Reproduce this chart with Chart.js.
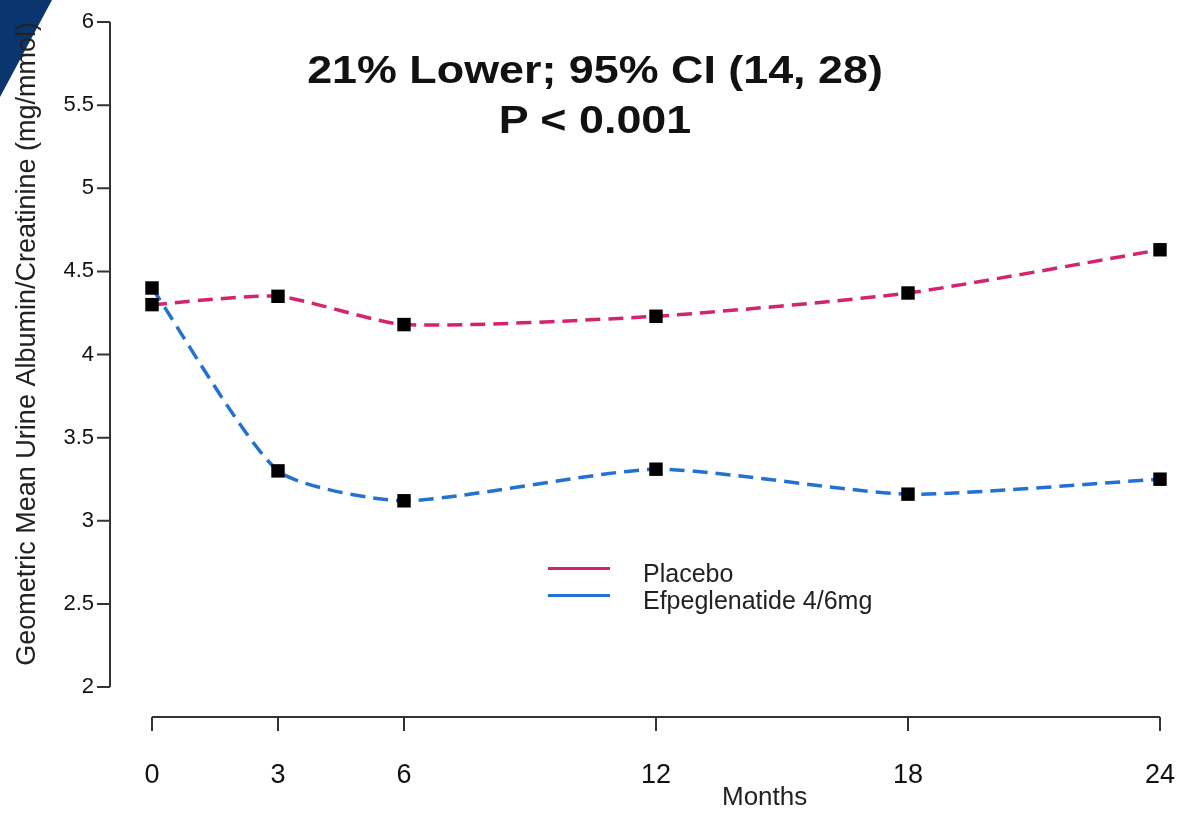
<!DOCTYPE html>
<html>
<head>
<meta charset="utf-8">
<script src="https://cdn.jsdelivr.net/npm/chart.js@4"></script>
<style>
  body { margin: 0; background: #fff; }
  #wrap { position: relative; width: 1190px; height: 822px; font-family: "Liberation Sans", Arial, sans-serif; color: #111; }
  #wrap canvas { position: absolute; left: 0; top: 0; }
  .title { position: absolute; left: 0; width: 1190px; text-align: center; font-weight: bold; font-size: 38px; transform: scaleX(1.18); transform-origin: 595px 0; }
  .legend { position: absolute; left: 548px; top: 560px; font-size: 25px; color: #222; }
  .legend div { height: 27px; line-height: 27px; position: relative; padding-left: 95px; }
  .legend span { position: absolute; left: 0; top: 7px; width: 62px; height: 3px; }
  .months { position: absolute; left: 722px; top: 781px; font-size: 26px; color: #222; }
</style>
</head>
<body>
<div id="wrap">
  <canvas id="chart" width="1190" height="822"></canvas>
  <div class="title" style="top:49px">21% Lower; 95% CI (14, 28)</div>
  <div class="title" style="top:99px">P &lt; 0.001</div>
  <div class="legend">
    <div><span style="background:#d4246f"></span>Placebo</div>
    <div><span style="background:#2371d1"></span>Efpeglenatide 4/6mg</div>
  </div>
  <div class="months">Months</div>
</div>
<script>
// data
const months = [0, 3, 6, 12, 18, 24];
const placebo = [4.30, 4.35, 4.18, 4.23, 4.37, 4.63];
const efpeglenatide = [4.40, 3.30, 3.12, 3.31, 3.16, 3.25];
const yTicks = [2, 2.5, 3, 3.5, 4, 4.5, 5, 5.5, 6];

const pink = '#d4246f';
const blue = '#2371d1';
const axisColor = '#333';

const toPoints = (vals) => vals.map((v, i) => ({ x: months[i], y: v }));

// R-style detached axes drawn from the scales
const rAxes = {
  id: 'rAxes',
  beforeDraw(chart) {
    const { ctx } = chart;
    // corner decoration
    ctx.save();
    ctx.fillStyle = '#0b356f';
    ctx.beginPath();
    ctx.moveTo(0, 0); ctx.lineTo(52, 0); ctx.lineTo(0, 97); ctx.closePath();
    ctx.fill();
    ctx.restore();
  },
  afterDraw(chart) {
    const { ctx, scales: { x, y } } = chart;
    ctx.save();
    ctx.strokeStyle = axisColor;
    ctx.lineWidth = 2;
    // y axis
    const left = chart.chartArea.left;
    ctx.beginPath();
    ctx.moveTo(left, y.getPixelForValue(yTicks[0]));
    ctx.lineTo(left, y.getPixelForValue(yTicks[yTicks.length - 1]));
    yTicks.forEach(t => {
      const py = y.getPixelForValue(t);
      ctx.moveTo(left - 13, py); ctx.lineTo(left, py);
    });
    ctx.stroke();
    // x axis, dropped below the plot
    const base = chart.chartArea.bottom + 30;
    ctx.beginPath();
    ctx.moveTo(x.getPixelForValue(months[0]), base);
    ctx.lineTo(x.getPixelForValue(months[months.length - 1]), base);
    months.forEach(m => {
      const px = x.getPixelForValue(m);
      ctx.moveTo(px, base); ctx.lineTo(px, base + 14);
    });
    ctx.stroke();
    ctx.restore();
  }
};

const seriesStyle = {
  borderWidth: 3.5,
  borderDash: [15, 8],
  tension: 0.2,
  pointStyle: 'rect',
  pointRadius: 9.5,
  pointBackgroundColor: '#000',
  pointBorderColor: '#000',
  pointBorderWidth: 0,
  clip: false
};

new Chart(document.getElementById('chart'), {
  type: 'line',
  data: {
    datasets: [
      { label: 'Placebo', data: toPoints(placebo), borderColor: pink, ...seriesStyle },
      { label: 'Efpeglenatide 4/6mg', data: toPoints(efpeglenatide), borderColor: blue, ...seriesStyle }
    ]
  },
  options: {
    responsive: false,
    animation: false,
    layout: { padding: { left: 2, top: 22, right: 30, bottom: 35 } },
    plugins: { legend: { display: false }, tooltip: { enabled: false } },
    scales: {
      x: {
        type: 'linear',
        min: -1,
        max: 24,
        afterBuildTicks: (s) => { s.ticks = months.map(v => ({ value: v })); },
        afterFit: (s) => { s.height = 100; },
        grid: { display: true, drawOnChartArea: false, drawTicks: true, tickLength: 68, color: 'rgba(0,0,0,0)' },
        border: { display: false },
        ticks: {
          padding: 4,
          color: '#111',
          font: { family: 'Liberation Sans', size: 27 },
          autoSkip: false,
          maxRotation: 0
        }
      },
      y: {
        min: 2,
        max: 6,
        afterBuildTicks: (s) => { s.ticks = yTicks.map(v => ({ value: v })); },
        afterFit: (s) => { s.width = 108; },
        grid: { display: true, drawOnChartArea: false, drawTicks: true, tickLength: 13, color: 'rgba(0,0,0,0)' },
        border: { display: false },
        ticks: {
          padding: 3,
          color: '#111',
          font: { family: 'Liberation Sans', size: 22 },
          callback: (v) => String(v)
        },
        title: {
          display: true,
          text: 'Geometric Mean Urine Albumin/Creatinine (mg/mmol)',
          align: 'end',
          color: '#222',
          font: { family: 'Liberation Sans', size: 27 },
          padding: { top: 9, bottom: 0 }
        }
      }
    }
  },
  plugins: [rAxes]
});
</script>
</body>
</html>
